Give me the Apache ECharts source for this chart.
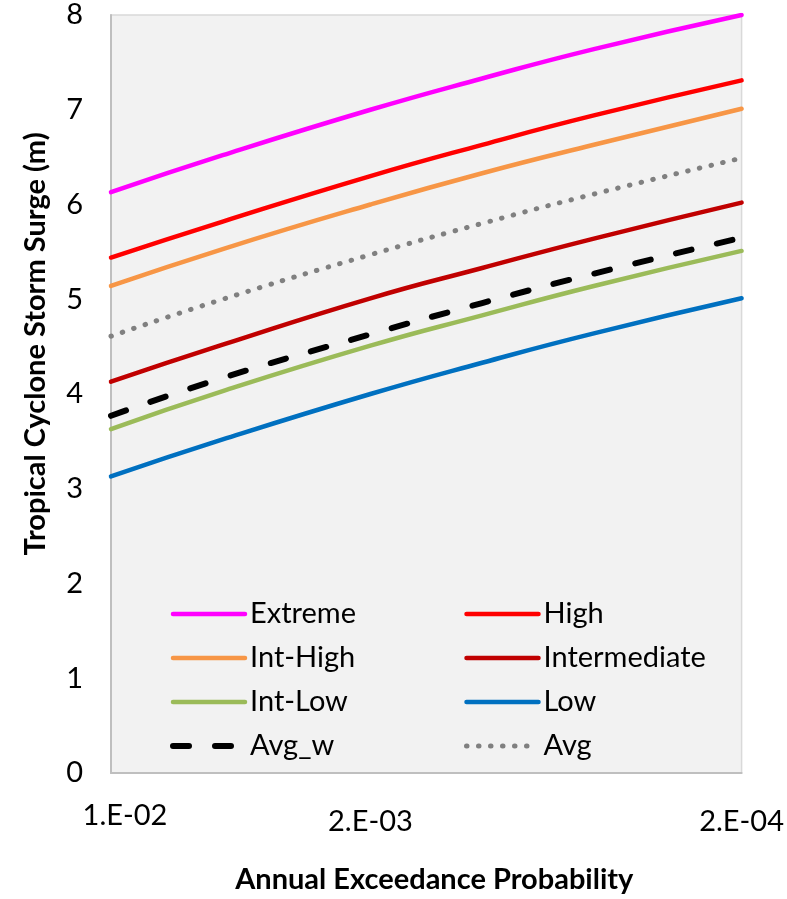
<!DOCTYPE html>
<html>
<head>
<meta charset="utf-8">
<script src="https://cdn.jsdelivr.net/npm/echarts@6/dist/echarts.min.js"></script>
<style>
    html, body { margin: 0; padding: 0; background: #fff; }
    #chart { width: 787px; height: 899px; }
</style>
</head>
<body>
<div id="chart"></div>
<script>
    // annual exceedance probabilities (x) and surge levels (m)
    var probs = [1e-2, 5e-3, 2e-3, 1e-3, 5e-4, 2e-4]
    var tickValues = [1e-2, 2e-3, 2e-4]
    var tickLabels = ['1.E-02', '2.E-03', '2.E-04']

    var extreme = [6.13, 6.52, 7.00, 7.33, 7.64, 8.00]
    var high = [5.44, 5.82, 6.30, 6.63, 6.94, 7.31]
    var intHigh = [5.14, 5.53, 6.00, 6.33, 6.63, 7.01]
    var intermediate = [4.13, 4.52, 5.01, 5.33, 5.64, 6.02]
    var intLow = [3.63, 4.03, 4.51, 4.83, 5.14, 5.51]
    var low = [3.13, 3.52, 4.00, 4.33, 4.64, 5.01]
    var avgW = [3.77, 4.17, 4.63, 4.96, 5.27, 5.65]
    var avg = [4.61, 5.00, 5.47, 5.80, 6.11, 6.49]

    var font = "Lato, sans-serif"

    function pairs(vals) {
        return probs.map(function (p, i) { return [p, vals[i]] })
    }

    function line(name, vals, color, type, width) {
        return {
            name: name,
            type: 'line',
            data: pairs(vals),
            smooth: true,
            symbol: 'none',
            lineStyle: { color: color, width: width || 4.5, type: type || 'solid', cap: 'round' },
            itemStyle: { color: color },
            animation: false
        }
    }

    function legendCol(left, names) {
        return {
            left: left, top: 594, orient: 'vertical',
            itemWidth: 72, itemHeight: 14, itemGap: 14,
            data: names,
            itemStyle: { opacity: 0, color: 'transparent', borderWidth: 0 },
            lineStyle: { width: 'inherit', cap: 'round' },
            textStyle: { fontFamily: font, fontSize: 29, lineHeight: 30, color: '#000' }
        }
    }

    var chart = echarts.init(document.getElementById('chart'))
    chart.setOption({
        backgroundColor: '#fff',
        grid: {
            left: 111, right: 41, top: 15, bottom: 122,
            show: true,
            backgroundColor: '#f2f2f2',
            borderColor: '#d9d9d9',
            borderWidth: 1.5
        },
        legend: [
            legendCol(165, ['Extreme', 'Int-High', 'Int-Low', 'Avg_w']),
            legendCol(459, ['High', 'Intermediate', 'Low', 'Avg'])
        ],
        xAxis: {
            type: 'log',
            inverse: true,
            min: 2e-4,
            max: 1e-2,
            name: 'Annual Exceedance Probability',
            nameLocation: 'middle',
            nameGap: 92,
            nameTextStyle: { fontFamily: font, fontSize: 29, fontWeight: 'bold', color: '#000', padding: [0, 0, 0, 16] },
            axisLine: { show: true, lineStyle: { color: '#bfbfbf', width: 2 } },
            axisTick: { show: false },
            splitLine: { show: false },
            axisLabel: {
                customValues: tickValues,
                margin: 28,
                formatter: function (v) {
                    var i = tickValues.findIndex(function (t) { return Math.abs(t - v) / t < 1e-6 })
                    if (i < 0) return ''
                    return (i === 0 ? '{a|' : '{b|') + tickLabels[i] + '}'
                },
                rich: {
                    a: { fontFamily: font, fontSize: 29, color: '#000', padding: [0, 0, 0, 28] },
                    b: { fontFamily: font, fontSize: 29, color: '#000', padding: [6, 0, 0, 0] }
                }
            }
        },
        yAxis: {
            type: 'value',
            min: 0,
            max: 8,
            interval: 1,
            name: 'Tropical Cyclone Storm Surge (m)',
            nameLocation: 'middle',
            nameGap: 61,
            nameTextStyle: { fontFamily: font, fontSize: 29, fontWeight: 'bold', color: '#000', padding: [0, 0, 0, 100] },
            axisLine: { show: true, lineStyle: { color: '#bfbfbf', width: 2 } },
            axisTick: { show: false },
            splitLine: { show: false },
            axisLabel: { fontFamily: font, fontSize: 29, color: '#000', margin: 28 }
        },
        series: [
            line('Low', low, '#0070c0'),
            line('Int-Low', intLow, '#9bbb59'),
            line('Avg_w', avgW, '#000000', [16, 26], 6),
            line('Intermediate', intermediate, '#c00000'),
            line('Avg', avg, '#808080', [0.5, 11.5], 5),
            line('Int-High', intHigh, '#f79646'),
            line('High', high, '#ff0000'),
            line('Extreme', extreme, '#ff00ff')
        ]
    })
</script>
</body>
</html>
